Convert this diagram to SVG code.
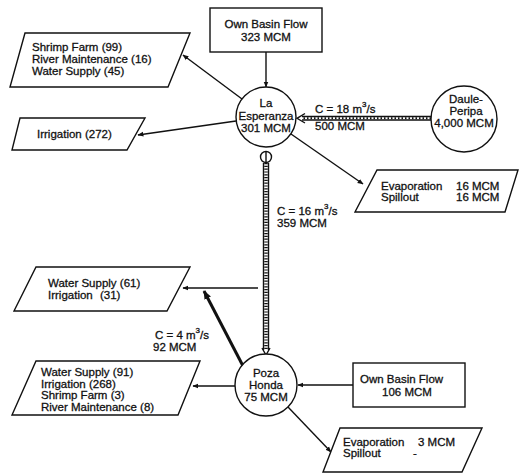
<svg xmlns="http://www.w3.org/2000/svg" width="519" height="475" viewBox="0 0 519 475">
<style>
text{font-family:"Liberation Sans",Arial,sans-serif;font-size:11.5px;fill:#111;stroke:#111;stroke-width:0.3}
.c{text-anchor:middle}
.shape{fill:#fff;stroke:#111;stroke-width:1.4}
.ln{fill:none;stroke:#111;stroke-width:1.4}
.thick{fill:none;stroke:#111;stroke-width:3}
.sup{font-size:8px}
</style>
<defs>
<marker id="ah" viewBox="0 0 10 10" refX="9" refY="5" markerWidth="6" markerHeight="6" orient="auto" markerUnits="userSpaceOnUse">
<path d="M0,1 L10,5 L0,9 z" fill="#111"/>
</marker>
<marker id="ahb" viewBox="0 0 10 10" refX="9" refY="5" markerWidth="9" markerHeight="9" orient="auto" markerUnits="userSpaceOnUse">
<path d="M0,1 L10,5 L0,9 z" fill="#111"/>
</marker>
</defs>
<rect width="519" height="475" fill="#fff"/>

<g id="connectors">
<line class="ln" x1="266" y1="52" x2="266" y2="87" marker-end="url(#ah)"/>
<line class="ln" x1="242" y1="99" x2="183" y2="55" marker-end="url(#ah)"/>
<line class="ln" x1="236" y1="121" x2="138" y2="135" marker-end="url(#ah)"/>
<g id="daule-flow">
<line class="ln" x1="431" y1="116.5" x2="302" y2="116.5"/>
<line class="ln" x1="431" y1="120" x2="302" y2="120"/>
<line stroke="#111" stroke-width="2" stroke-dasharray="1.5 2" x1="431" y1="118.3" x2="302" y2="118.3"/>
<path class="ln" d="M305,113.5 L297,118.3 L305,123"/>
</g>
<line class="ln" x1="291" y1="134" x2="363" y2="184" marker-end="url(#ah)"/>
<g id="canal">
<line class="ln" x1="263.5" y1="163" x2="263.5" y2="350"/>
<line class="ln" x1="268.5" y1="163" x2="268.5" y2="350"/>
<line stroke="#111" stroke-width="3.5" stroke-dasharray="1.2 1.6" x1="266" y1="163" x2="266" y2="350"/>
<path class="ln" d="M262,348 L266,355 L270,348"/>
<circle class="shape" cx="266" cy="157" r="5.5"/>
<line class="ln" x1="266" y1="151.5" x2="266" y2="162.5"/>
</g>
<line class="ln" x1="258" y1="288" x2="183" y2="288" marker-end="url(#ah)"/>
<line class="thick" x1="243" y1="366" x2="204" y2="291" marker-end="url(#ahb)"/>
<line class="ln" x1="235" y1="386" x2="193" y2="386" marker-end="url(#ah)"/>
<line class="ln" x1="353" y1="385" x2="298" y2="385" marker-end="url(#ah)"/>
<line class="ln" x1="288" y1="407" x2="331" y2="452" marker-end="url(#ah)"/>
</g>

<g id="own-basin-top">
<rect class="shape" x="210" y="8" width="112" height="44"/>
<text class="c" x="266" y="28">Own Basin Flow</text>
<text class="c" x="266" y="41">323 MCM</text>
</g>

<g id="la-esperanza">
<circle class="shape" cx="266" cy="117" r="30"/>
<text class="c" x="266" y="107">La</text>
<text class="c" x="266" y="120">Esperanza</text>
<text class="c" x="266" y="132">301 MCM</text>
</g>

<g id="shrimp-top">
<polygon class="shape" points="25,33 190,33 168,87 10,87"/>
<text x="32" y="51">Shrimp Farm (99)</text>
<text x="32" y="63">River Maintenance (16)</text>
<text x="32" y="75">Water Supply (45)</text>
</g>

<g id="irrigation-top">
<polygon class="shape" points="20,118 145,118 127,150 12,150"/>
<text x="37" y="138">Irrigation (272)</text>
</g>

<g id="daule-peripa">
<circle class="shape" cx="464" cy="119" r="33"/>
<text class="c" x="466" y="103">Daule-</text>
<text class="c" x="466" y="115">Peripa</text>
<text class="c" x="464" y="127">4,000 MCM</text>
</g>

<g id="evap-top">
<polygon class="shape" points="377,170 518,170 505,212 355,212"/>
<text x="381" y="190">Evaporation</text>
<text x="456" y="190">16 MCM</text>
<text x="381" y="201">Spillout</text>
<text x="456" y="201">16 MCM</text>
</g>

<g id="labels">
<text x="315" y="113">C = 18 m<tspan class="sup" dy="-6">3</tspan><tspan dy="6">/s</tspan></text>
<text x="315" y="130">500 MCM</text>
<text x="277" y="215">C = 16 m<tspan class="sup" dy="-6">3</tspan><tspan dy="6">/s</tspan></text>
<text x="277" y="227">359 MCM</text>
<text x="155" y="339">C = 4 m<tspan class="sup" dy="-6">3</tspan><tspan dy="6">/s</tspan></text>
<text x="153" y="351">92 MCM</text>
</g>

<g id="water-supply-61">
<polygon class="shape" points="36,267 190,267 167,311 14,311"/>
<text x="48" y="287">Water Supply (61)</text>
<text x="48" y="299">Irrigation</text>
<text x="100" y="299">(31)</text>
</g>

<g id="water-supply-91">
<polygon class="shape" points="36,361 200,361 178,415 12,415"/>
<text x="41" y="376">Water Supply (91)</text>
<text x="41" y="388">Irrigation (268)</text>
<text x="41" y="399">Shrimp Farm (3)</text>
<text x="41" y="411">River Maintenance (8)</text>
</g>

<g id="poza-honda">
<circle class="shape" cx="266" cy="385" r="31"/>
<text class="c" x="266" y="377">Poza</text>
<text class="c" x="266" y="389">Honda</text>
<text class="c" x="266" y="401">75 MCM</text>
</g>

<g id="own-basin-bottom">
<rect class="shape" x="353" y="363" width="112" height="44"/>
<text x="360" y="383">Own Basin Flow</text>
<text x="382" y="396">106 MCM</text>
</g>

<g id="evap-bottom">
<polygon class="shape" points="340,428 482,428 462,472 323,472"/>
<text x="343" y="446">Evaporation</text>
<text x="418" y="446">3 MCM</text>
<text x="343" y="457">Spillout</text>
<text x="413" y="457">-</text>
</g>
</svg>
